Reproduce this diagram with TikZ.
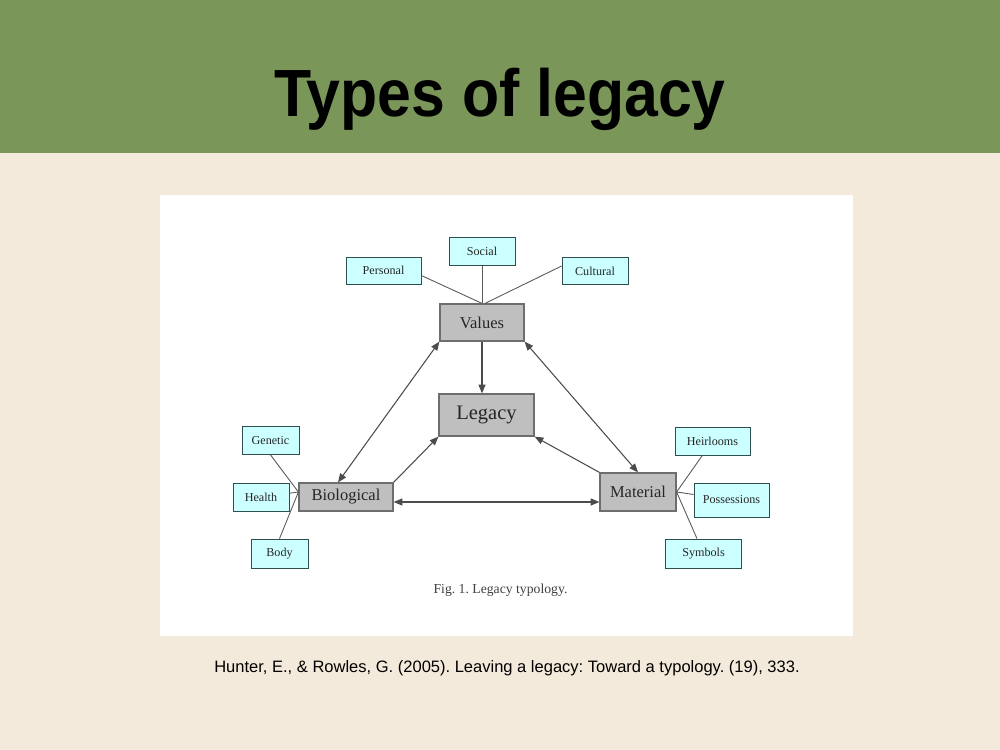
\documentclass[tikz,border=0pt]{standalone}
\usepackage{fontspec}
\setmainfont{Liberation Serif}
\newfontfamily\sansf{Liberation Sans}
\newfontfamily\titlef[FakeStretch=0.91]{Liberation Sans}
\usetikzlibrary{arrows.meta,calc}
\definecolor{hdr}{HTML}{7A9759}
\definecolor{bg}{HTML}{F4EADB}
\definecolor{cyanfill}{HTML}{CCFFFF}
\definecolor{cyanline}{HTML}{2F4F4F}
\definecolor{grayfill}{HTML}{BFBFBF}
\definecolor{grayline}{HTML}{6E6E6E}
\definecolor{lin}{HTML}{5A5A5A}
\frenchspacing
\begin{document}
\begin{tikzpicture}[x=0.02cm,y=-0.02cm,
 leaf/.style={draw=cyanline,fill=cyanfill,line width=0.45pt,inner sep=0pt,font=\fontsize{6.9}{8}\selectfont,text=black!85},
 core/.style={draw=grayline,fill=grayfill,line width=0.7pt,inner sep=0pt,font=\fontsize{9.4}{11}\selectfont,text=black!85},
 link/.style={draw=lin,line width=0.5pt},
 arr/.style={draw=black!70,line width=0.6pt,-{Triangle[length=5pt,width=4pt]}},
 darr/.style={draw=black!70,line width=0.6pt,{Triangle[length=5pt,width=4pt]}-{Triangle[length=5pt,width=4pt]}}]
% background
\fill[bg] (0,0) rectangle (1000,750);
\useasboundingbox (0,0) rectangle (1000,750);
\fill[hdr] (0,0) rectangle (1000,153);
\fill[white] (160,195) rectangle (853,636);
% title and citation
\node[anchor=base,font=\titlef\bfseries\fontsize{38}{42}\selectfont] (title) at (500,116) {Types of legacy};
\node[anchor=base,font=\sansf\fontsize{9.4}{11}\selectfont] (cite) at (507,672) {Hunter, E., \& Rowles, G. (2005). Leaving a legacy: Toward a typology. (19), 333.};
% nodes
\node[leaf,minimum width=1.32cm,minimum height=0.56cm] (social) at (482,251.5) {Social};
\node[leaf,minimum width=1.5cm,minimum height=0.54cm] (personal) at (383.5,270.5) {Personal};
\node[leaf,minimum width=1.32cm,minimum height=0.54cm] (cultural) at (595,271) {Cultural};
\node[core,minimum width=1.68cm,minimum height=0.74cm] (values) at (482,322.5) {Values};
\node[core,minimum width=1.9cm,minimum height=0.84cm,font=\fontsize{11.7}{13}\selectfont] (legacy) at (486.5,415) {Legacy};
\node[leaf,minimum width=1.14cm,minimum height=0.56cm] (genetic) at (270.5,440.5) {Genetic};
\node[leaf,minimum width=1.12cm,minimum height=0.56cm] (health) at (261,497) {Health};
\node[leaf,minimum width=1.14cm,minimum height=0.58cm] (body) at (279.5,553.5) {Body};
\node[core,minimum width=1.88cm,minimum height=0.56cm] (bio) at (346,497) {Biological};
\node[core,minimum width=1.52cm,minimum height=0.76cm] (mat) at (638,492) {Material};
\node[leaf,minimum width=1.5cm,minimum height=0.56cm] (heir) at (712.5,441) {Heirlooms};
\node[leaf,minimum width=1.5cm,minimum height=0.68cm] (poss) at (731.5,500) {Possessions};
\node[leaf,minimum width=1.52cm,minimum height=0.58cm] (symb) at (703.5,553.5) {Symbols};
\node[anchor=base,font=\fontsize{7.8}{9}\selectfont,text=black!75] (cap) at (500.5,593) {Fig. 1. Legacy typology.};
% small connectors
\draw[link] ($(personal.east)+(0,5)$) -- (values.north);
\draw[link] (social.south) -- (values.north);
\draw[link] ($(cultural.west)+(0,-5)$) -- ($(values.north)+(3,0)$);
\coordinate (bL) at ($(bio.west)+(0,-5)$);
\draw[link] (genetic.south) -- (bL);
\draw[link] (health) -- (bL);
\draw[link] (body.north) -- (bL);
\draw[link] (heir) -- (mat.east);
\draw[link] (poss) -- (mat.east);
\draw[link] (symb) -- (mat.east);
% arrows
\draw[arr] (values.south) -- (legacy.north -| values.south);
\draw[darr] (values.south west) -- ($(bio.north)+(-8,0)$);
\draw[darr] (values.south east) -- (mat.north);
\draw[arr] (bio.north east) -- (legacy.south west);
\draw[arr] (mat.north west) -- (legacy.south east);
\draw[darr] ($(bio.east)+(0,5)$) -- ($(mat.west)+(0,10)$);
\end{tikzpicture}
\end{document}
